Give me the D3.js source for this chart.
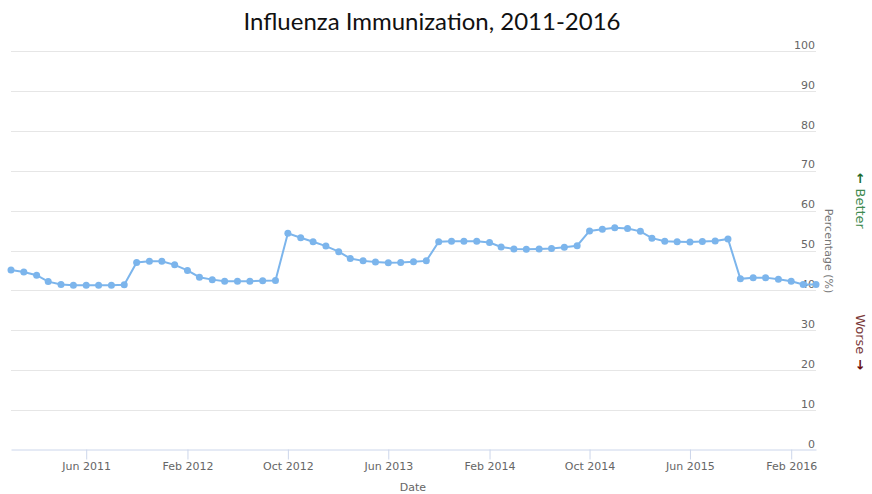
<!DOCTYPE html>
<html>
<head>
<meta charset="utf-8">
<script src="https://cdn.jsdelivr.net/npm/d3@7"></script>
<style>
  body { margin: 0; background: #fff; }
  svg { display: block; }
</style>
</head>
<body>
<div id="chart"></div>
<script>
var width = 872;
var height = 494;
var margin = {top: 51, right: 56, bottom: 44, left: 11};

// monthly observations, Dec 2010 - Apr 2016
var months = [
  "2010-12",
  "2011-01","2011-02","2011-03","2011-04","2011-05","2011-06","2011-07","2011-08","2011-09","2011-10","2011-11","2011-12",
  "2012-01","2012-02","2012-03","2012-04","2012-05","2012-06","2012-07","2012-08","2012-09","2012-10","2012-11","2012-12",
  "2013-01","2013-02","2013-03","2013-04","2013-05","2013-06","2013-07","2013-08","2013-09","2013-10","2013-11","2013-12",
  "2014-01","2014-02","2014-03","2014-04","2014-05","2014-06","2014-07","2014-08","2014-09","2014-10","2014-11","2014-12",
  "2015-01","2015-02","2015-03","2015-04","2015-05","2015-06","2015-07","2015-08","2015-09","2015-10","2015-11","2015-12",
  "2016-01","2016-02","2016-03","2016-04"
];
var percentages = [
  45.1,
  44.6, 43.8, 42.2, 41.5, 41.3, 41.3, 41.3, 41.3, 41.4, 47.0, 47.3, 47.3,
  46.4, 45.0, 43.3, 42.7, 42.3, 42.3, 42.3, 42.4, 42.5, 54.3, 53.2, 52.2,
  51.1, 49.7, 48.0, 47.4, 47.1, 46.9, 47.0, 47.2, 47.4, 52.2, 52.3, 52.3,
  52.3, 52.0, 50.9, 50.4, 50.3, 50.4, 50.5, 50.8, 51.2, 54.9, 55.3, 55.7,
  55.5, 54.8, 53.1, 52.3, 52.2, 52.1, 52.25, 52.4, 52.9, 42.9, 43.2, 43.2,
  42.8, 42.3, 41.5, 41.5
];
var xTicks = ["2011-06","2012-02","2012-10","2013-06","2014-02","2014-10","2015-06","2016-02"];
var yTicks = [0, 10, 20, 30, 40, 50, 60, 70, 80, 90, 100];

var parseMonth = d3.timeParse("%Y-%m");
var data = months.map(function(m, i) { return {date: parseMonth(m), value: percentages[i]}; });

var svg = d3.select("#chart").append("svg")
  .attr("width", width)
  .attr("height", height);

var innerW = width - margin.left - margin.right;
var innerH = height - margin.top - margin.bottom;

var x = d3.scaleTime()
  .domain(d3.extent(data, function(d) { return d.date; }))
  .range([0, innerW]);

var y = d3.scaleLinear()
  .domain([0, 100])
  .range([innerH, 0]);

var g = svg.append("g")
  .attr("transform", "translate(" + margin.left + "," + margin.top + ")");

// title
svg.append("text")
  .attr("x", 432)
  .attr("y", 30)
  .attr("text-anchor", "middle")
  .style("font-family", "Lato, 'Open Sans', sans-serif")
  .style("font-size", "24px")
  .style("fill", "#111")
  .text("Influenza Immunization, 2011-2016");

// grid lines
g.selectAll(".grid")
  .data(yTicks.filter(function(t) { return t > 0; }))
  .enter().append("line")
  .attr("class", "grid")
  .attr("x1", 0)
  .attr("x2", innerW)
  .attr("y1", function(d) { return Math.round(y(d)) + 0.5; })
  .attr("y2", function(d) { return Math.round(y(d)) + 0.5; })
  .style("stroke", "#e6e6e6")
  .style("stroke-width", 1);

// y axis on the right, labels above the grid lines
var yAxis = d3.axisRight(y).tickValues(yTicks).tickSize(0).tickPadding(0);
var yg = g.append("g")
  .attr("transform", "translate(" + innerW + ",0)")
  .call(yAxis);
yg.select(".domain").remove();
yg.selectAll("text")
  .attr("x", -1)
  .attr("dy", "-0.25em")
  .attr("text-anchor", "end")
  .style("font-family", "'DejaVu Sans', sans-serif")
  .style("font-size", "11px")
  .style("fill", "#666");

// x axis
var xAxis = d3.axisBottom(x)
  .tickValues(xTicks.map(parseMonth))
  .tickFormat(d3.timeFormat("%b %Y"))
  .tickSize(10)
  .tickSizeOuter(0)
  .tickPadding(3);
var xg = g.append("g")
  .attr("transform", "translate(0," + (Math.round(innerH) - 0.5) + ")")
  .call(xAxis);
xg.select(".domain").style("stroke", "#ccd6eb");
xg.selectAll(".tick line").style("stroke", "#ccd6eb");
xg.selectAll("text")
  .style("font-family", "'DejaVu Sans', sans-serif")
  .style("font-size", "11px")
  .style("fill", "#666");

svg.append("text")
  .attr("x", 413)
  .attr("y", 491)
  .attr("text-anchor", "middle")
  .style("font-family", "'DejaVu Sans', sans-serif")
  .style("font-size", "11px")
  .style("fill", "#666")
  .text("Date");

// y axis title
svg.append("text")
  .attr("transform", "translate(825,251) rotate(90)")
  .attr("text-anchor", "middle")
  .style("font-family", "'DejaVu Sans', sans-serif")
  .style("font-size", "11px")
  .style("fill", "#777")
  .text("Percentage (%)");

// better / worse indicators
var better = svg.append("text")
  .attr("transform", "translate(856,201) rotate(90)")
  .attr("text-anchor", "middle")
  .style("font-family", "'DejaVu Sans', sans-serif")
  .style("font-size", "13px");
better.append("tspan").style("fill", "#1e6b2e").style("font-weight", "bold").text("\u2190 ");
better.append("tspan").style("fill", "#3f8a50").text("Better");

var worse = svg.append("text")
  .attr("transform", "translate(856,342) rotate(90)")
  .attr("text-anchor", "middle")
  .style("font-family", "'DejaVu Sans', sans-serif")
  .style("font-size", "13px");
worse.append("tspan").style("fill", "#7a3a3a").text("Worse");
worse.append("tspan").style("fill", "#6b1010").style("font-weight", "bold").text(" \u2192");

// series
var line = d3.line()
  .x(function(d) { return x(d.date); })
  .y(function(d) { return y(d.value); });

g.append("path")
  .datum(data)
  .attr("d", line)
  .style("fill", "none")
  .style("stroke", "#7cb5ec")
  .style("stroke-width", 2);

g.selectAll(".dot")
  .data(data)
  .enter().append("circle")
  .attr("class", "dot")
  .attr("cx", function(d) { return x(d.date); })
  .attr("cy", function(d) { return y(d.value); })
  .attr("r", 3.5)
  .style("fill", "#7cb5ec");
</script>
</body>
</html>
